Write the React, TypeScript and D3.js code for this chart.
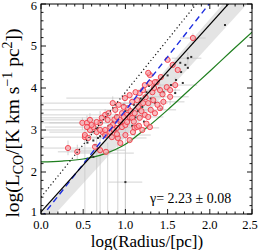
import React from 'react';
import * as d3 from 'd3';

// red open circles (log R, log L)
const redPts: [number, number][] = [
  [0.32, 2.57], [0.43, 2.48], [0.52, 2.83], [0.52, 2.88], [0.56, 2.81], [0.49, 3.17], [0.545, 3.17],
  [0.58, 3.0], [0.62, 3.07], [0.66, 2.95], [0.70, 2.52], [0.77, 2.48], [0.73, 2.95], [0.76, 3.0],
  [0.82, 2.95], [0.85, 3.12], [0.90, 3.05], [0.91, 2.81], [0.96, 3.07], [0.94, 3.19], [0.70, 3.0],
  [0.76, 2.88], [0.82, 3.07], [0.84, 2.83], [0.87, 3.25], [0.90, 3.31], [0.94, 3.24], [0.96, 3.4],
  [1.0, 3.12], [1.02, 3.19], [1.02, 3.36], [1.03, 3.52], [1.05, 3.31], [1.08, 3.29], [1.08, 3.67],
  [1.11, 3.05], [1.11, 3.4], [1.14, 3.07], [1.14, 3.71], [1.15, 3.55], [1.17, 3.29], [1.17, 3.88],
  [1.2, 3.0], [1.21, 3.64], [1.21, 3.95], [1.23, 3.36], [1.23, 4.07], [1.27, 3.64], [1.27, 3.31],
  [1.29, 3.07], [1.29, 4.31], [1.32, 3.9], [1.33, 3.71], [1.35, 3.4], [1.37, 4.14], [1.41, 3.95],
  [1.41, 3.52], [1.45, 3.67], [1.49, 4.02], [1.53, 3.79], [1.27, 4.36], [1.42, 4.26], [1.50, 4.67],
  [1.56, 4.55], [1.62, 4.43], [1.29, 4.12], [1.35, 4.14], [1.59, 4.07], [1.53, 3.95], [1.80, 5.19],
  [0.995, 3.76], [0.85, 3.64], [0.58, 3.24], [0.545, 3.07], [0.60, 3.12], [0.70, 3.17], [0.76, 3.36],
  [0.79, 3.24], [0.88, 3.48], [0.92, 3.6], [0.98, 3.55], [1.05, 3.83], [1.12, 3.9], [1.0, 2.88],
  [1.05, 2.76], [0.94, 2.69], [1.09, 2.95], [1.16, 3.1], [1.25, 3.15], [1.3, 3.48], [1.38, 3.6],
  [1.44, 3.85], [0.66, 3.19], [0.72, 3.29], [0.8, 3.4], [0.86, 3.0], [0.98, 3.31], [1.06, 3.45],
  [1.19, 3.45], [1.24, 3.78], [1.34, 4.0], [1.1, 3.2], [0.9, 2.9], [0.64, 2.6],
];

// small black points
const blackPts: [number, number][] = [
  [2.18, 5.5], [1.74, 4.71], [1.78, 4.74], [1.71, 4.55], [1.65, 4.6], [1.66, 4.38], [1.60, 4.19],
  [1.68, 4.12], [1.74, 4.48], [1.54, 4.07], [1.45, 3.9], [1.59, 3.88], [1.0, 1.76], [1.5, 4.3],
  [1.4, 4.0], [1.3, 3.75], [1.2, 3.55], [1.25, 3.9], [1.15, 3.45], [1.1, 3.6], [1.05, 3.25],
  [0.95, 3.15], [0.9, 3.35], [0.85, 3.2], [0.8, 3.1], [0.75, 2.9], [0.7, 2.85], [0.62, 2.75],
  [0.6, 2.95], [0.55, 2.7], [0.67, 3.05], [0.88, 3.0], [1.0, 3.45], [1.12, 3.3], [1.22, 3.2],
  [1.35, 3.65], [1.42, 3.5], [1.18, 3.75], [0.98, 3.6], [1.28, 4.05], [0.83, 2.9], [1.08, 3.1],
  [0.64, 2.64], [0.675, 2.81], [0.62, 2.36],
];

// error bars: x, y, xLo, xHi, yLo, yHi
const errBars: number[][] = [
  [0.52, 2.83, -0.1, 0.95, 1.0, 3.05], [0.545, 3.17, -0.1, 1.0, 3.0, 3.35], [0.49, 3.17, 0.1, 0.9, 3.0, 3.3],
  [0.58, 3.0, -0.1, 1.05, 2.8, 3.2], [0.62, 3.07, 0.05, 1.1, 2.9, 3.25], [0.58, 3.24, -0.1, 0.95, 3.1, 3.4],
  [0.70, 3.29, -0.1, 1.15, 3.1, 3.45], [0.76, 3.36, 0.0, 1.2, 3.2, 3.5], [0.85, 3.64, -0.1, 1.2, 3.5, 3.8],
  [0.995, 3.76, 0.3, 1.3, 3.6, 3.9], [0.88, 3.48, -0.1, 1.25, 3.3, 3.6], [0.66, 2.95, 0.1, 1.05, 1.0, 3.1],
  [0.70, 2.52, 0.35, 1.0, 1.0, 2.8], [0.79, 2.45, 0.45, 1.1, 1.0, 2.7], [0.32, 2.57, 0.0, 0.6, 2.4, 2.75],
  [0.43, 2.48, 0.2, 0.7, 2.3, 2.65], [0.91, 2.81, 0.6, 1.25, 1.0, 3.0], [1.0, 2.88, 0.7, 1.3, 1.0, 3.05],
  [1.0, 1.76, 0.8, 1.2, 1.0, 2.3], [1.05, 3.31, 0.7, 1.45, 3.1, 3.5], [1.2, 3.64, 0.9, 1.5, 3.45, 3.85],
  [1.3, 3.48, 1.0, 1.6, 3.3, 3.65], [1.45, 3.67, 1.2, 1.7, 3.5, 3.85], [1.11, 3.05, 0.8, 1.4, 2.85, 3.25],
  [1.41, 3.95, 1.15, 1.65, 3.8, 4.1], [1.53, 3.79, 1.3, 1.75, 3.6, 3.95], [1.59, 4.07, 1.35, 1.85, 3.9, 4.25],
  [1.74, 4.71, 1.55, 1.9, 4.55, 4.85], [1.8, 5.19, 1.65, 1.95, 5.05, 5.3],
];

// fitted / reference relations (end points)
const fitLine: [number, number][] = [[0, 1.05], [2.5, 6.625]];
const blueLine: [number, number][] = [[0, 0.91], [2.5, 7.3]];
const dotLine: [number, number][] = [[0, 1.4], [2.5, 7.65]];
const bandUpper: [number, number][] = [[0, 1.04], [2.5, 6.79]];
const bandLower: [number, number][] = [[0, 0.63], [2.5, 6.13]];
const greenCurve: [number, number][] = [
  [0, 2.24], [0.25, 2.26], [0.5, 2.31], [0.75, 2.43], [1.0, 2.66], [1.25, 3.05],
  [1.5, 3.48], [1.75, 3.94], [2.0, 4.4], [2.25, 4.87], [2.5, 5.33],
];

const xTicks = [0, 0.5, 1.0, 1.5, 2.0, 2.5];
const yTicks = [1, 2, 3, 4, 5, 6];

const FONT = '"Liberation Serif", "Times New Roman", serif';

export default function App() {
  const x = d3.scaleLinear().domain([0, 2.5]).range([41, 252]);
  const y = d3.scaleLinear().domain([1, 6]).range([214, 4]);
  const line = d3.line<[number, number]>().x(d => x(d[0])).y(d => y(d[1]));
  const curve = d3.line<[number, number]>().x(d => x(d[0])).y(d => y(d[1])).curve(d3.curveMonotoneX);
  const band = [...bandUpper, ...bandLower.slice().reverse()];

  const xMinor = d3.range(0, 2.501, 0.1);
  const yMinor = d3.range(1, 6.001, 0.2);

  return (
    <svg width={258} height={250} style={{ position: 'absolute', left: 0, top: 0, background: '#fff' }}
      fontFamily={FONT}>
      <defs>
        <clipPath id="plot">
          <rect x={41} y={4} width={211} height={210} />
        </clipPath>
      </defs>
      <g clipPath="url(#plot)">
        <path d={line(band as [number, number][]) + 'Z'} fill="#e4e4e4" />
        <g stroke="#c8c8c8" strokeWidth={0.8}>
          {errBars.map((e, i) => (
            <g key={i}>
              <line x1={x(e[2])} x2={x(e[3])} y1={y(e[1])} y2={y(e[1])} />
              <line x1={x(e[0])} x2={x(e[0])} y1={y(e[4])} y2={y(e[5])} />
            </g>
          ))}
        </g>
        <path d={curve(greenCurve) || ''} fill="none" stroke="#1f7f1f" strokeWidth={1.2} />
        {blackPts.map((p, i) => (
          <rect key={i} x={x(p[0]) - 1} y={y(p[1]) - 1} width={2} height={2} fill="#333" />
        ))}
        {redPts.map((p, i) => (
          <circle key={i} cx={x(p[0])} cy={y(p[1])} r={2.6} fill="#f9a9af" fillOpacity={0.75}
            stroke="#f03a46" strokeWidth={0.9} />
        ))}
        <path d={line(dotLine) || ''} fill="none" stroke="#111" strokeWidth={1.2} strokeDasharray="1.2,2.6" />
        <path d={line(blueLine) || ''} fill="none" stroke="#1f2fe0" strokeWidth={1.4} strokeDasharray="6,4" />
        <path d={line(fitLine) || ''} fill="none" stroke="#000" strokeWidth={1.2} />
      </g>

      {/* axes frame and ticks */}
      <rect x={41} y={4} width={211} height={210} fill="none" stroke="#000" strokeWidth={1} />
      <g stroke="#000" strokeWidth={0.9}>
        {xMinor.map((t, i) => {
          const major = Math.abs(t * 2 - Math.round(t * 2)) < 1e-6;
          const len = major ? 5 : 2.5;
          return (
            <g key={i}>
              <line x1={x(t)} x2={x(t)} y1={214} y2={214 - len} />
              <line x1={x(t)} x2={x(t)} y1={4} y2={4 + len} />
            </g>
          );
        })}
        {yMinor.map((t, i) => {
          const major = Math.abs(t - Math.round(t)) < 1e-6;
          const len = major ? 5 : 2.5;
          return (
            <g key={i}>
              <line x1={41} x2={41 + len} y1={y(t)} y2={y(t)} />
              <line x1={252} x2={252 - len} y1={y(t)} y2={y(t)} />
            </g>
          );
        })}
      </g>
      <g fontSize={12.5} fill="#000">
        {xTicks.map(t => (
          <text key={t} x={Math.min(x(t), 250)} y={228.5} textAnchor="middle">{t.toFixed(1)}</text>
        ))}
        {yTicks.map(t => (
          <text key={t} x={37} y={t === 6 ? y(t) + 2 : t === 1 ? y(t) - 2 : y(t)} dy="0.35em" textAnchor="end">{t}</text>
        ))}
      </g>

      <text x={150} y={203} fontSize={14}>γ= 2.23 ± 0.08</text>

      <text x={147} y={247} fontSize={17} textAnchor="middle">log(Radius/[pc])</text>
      <text transform="translate(19,123) rotate(-90)" fontSize={19.5} textAnchor="middle">
        log(L<tspan dy={4} fontSize={14}>CO</tspan>
        <tspan dy={-4}>/[K km s</tspan>
        <tspan dy={-7} fontSize={14}>−1</tspan>
        <tspan dy={7}> pc</tspan>
        <tspan dy={-7} fontSize={14}>2</tspan>
        <tspan dy={7}>])</tspan>
      </text>
    </svg>
  );
}
